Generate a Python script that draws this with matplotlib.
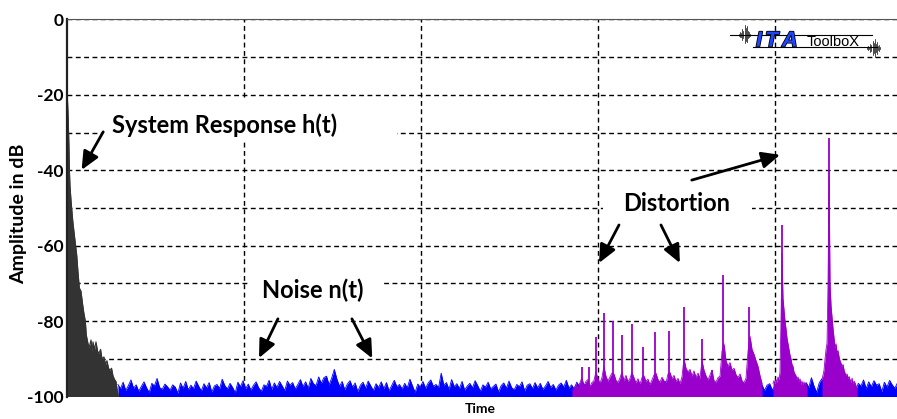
import numpy as np
import matplotlib
matplotlib.use('Agg')
import matplotlib.pyplot as plt
from matplotlib.lines import Line2D
from matplotlib.patches import Rectangle
import matplotlib.patheffects as pe

plt.rcParams['font.family'] = ['Lato', 'DejaVu Sans']

# ---------------- data (time in s, amplitude in dB) ----------------
sys_t = [0.000, 0.005, 0.009, 0.012, 0.015, 0.021, 0.031, 0.042, 0.053, 0.060,
         0.068, 0.077, 0.087, 0.094, 0.102, 0.107, 0.117, 0.123, 0.134, 0.140,
         0.145, 0.154, 0.162, 0.171, 0.179, 0.188, 0.196, 0.207, 0.216, 0.224,
         0.233, 0.241, 0.250, 0.258, 0.267, 0.275, 0.281, 0.288]
sys_db = [-20.3, -26.0, -33.0, -40.0, -44.0, -48.0, -53.5, -58.0, -62.4, -66.8,
          -71.2, -72.0, -75.7, -78.0, -80.0, -83.6, -86.0, -87.0, -85.0, -88.0,
          -85.5, -87.5, -85.5, -88.0, -88.5, -87.5, -90.0, -89.5, -91.5, -90.5,
          -92.5, -93.0, -92.5, -94.5, -95.5, -96.0, -98.0, -100.0]

noise_start, noise_end = 0.286, 4.69
noise_db = [
    -96.8, -97.9, -96.2, -98.4, -97.1, -95.6, -97.8, -96.9, -98.6, -97.3, -96.1, -97.7, -98.9, -96.5, -97.2, -95.2, -97.6, -98.1, -96.7, -97.4,
    -98.3, -96.9, -97.5, -99.1, -96.4, -97.8, -96.0, -98.2, -97.0, -97.9, -95.9, -97.3, -98.5, -96.6, -97.7, -96.3, -98.8, -97.2, -96.8, -97.9,
    -95.4, -97.1, -98.0, -96.5, -97.6, -99.0, -96.2, -97.4, -95.8, -97.9, -96.7, -98.3, -97.0, -96.1, -97.7, -98.6, -96.9, -97.3, -95.7, -98.1,
    -96.4, -97.6, -96.0, -97.2, -98.4, -95.9, -97.0, -96.3, -98.0, -96.8, -95.5, -97.4, -96.1, -97.8, -95.2, -96.6, -97.1, -94.8, -96.5, -95.0,
    -94.6, -96.9, -95.1, -92.8, -95.4, -97.3, -96.0, -98.2, -96.7, -95.8, -97.5, -96.4, -98.7, -97.0, -96.2, -97.8, -95.9, -97.2, -98.4, -96.6,
    -97.6, -96.1, -97.9, -96.3, -98.5, -97.1, -95.7, -97.4, -96.8, -98.0, -96.5, -97.7, -95.4, -97.2, -98.9, -96.7, -97.5, -96.0, -97.8, -96.4,
    -95.6, -97.3, -96.8, -97.6, -93.8, -97.0, -96.3, -98.1, -95.5, -97.4, -96.6, -97.9, -96.0, -98.3, -97.2, -96.5, -97.7, -95.8, -97.1, -98.6,
    -96.9, -97.5, -96.2, -98.0, -97.3, -96.7, -98.8, -97.1, -96.4, -97.8, -95.9, -97.6, -98.2, -96.8, -97.4, -96.1, -98.5, -97.0, -96.6, -97.9,
    -96.3, -97.7, -96.5, -98.1, -97.2, -96.0, -97.6, -96.8, -98.3, -97.0, -96.4, -97.5, -95.7, -97.8, -96.9, -98.0, -96.2, -97.3, -95.9, -97.1,
    -96.5, -97.8, -96.9, -98.2, -97.0, -96.4, -97.6, -98.0, -96.7, -97.3, -96.1, -97.9, -96.8, -98.4, -97.2, -96.5, -97.7, -96.2, -98.1, -97.0,
    -96.6, -97.4, -98.3, -96.9, -97.5, -96.3, -98.0, -97.1, -96.7, -97.8, -96.0, -97.6, -98.5, -96.8, -97.2, -96.4, -97.9, -96.1, -98.2, -97.3,
    -96.9, -97.5, -96.2, -98.0, -97.4, -96.6, -97.8, -96.3, -98.6, -97.0, -96.5, -97.7, -96.8, -98.1, -97.2, -96.0, -97.6, -96.9, -98.3, -97.1,
    -96.4, -97.9, -96.7, -98.0, -97.3, -96.2, -97.5, -96.8, -98.4, -97.0, -96.6, -98.3, -97.1, -96.5, -97.9, -96.4, -97.3, -96.9, -97.7, -96.2,
    -97.4, -96.8, -98.1, -97.0, -96.3, -97.6, -95.0, -97.2, -98.9, -96.4, -95.3, -97.8, -96.6, -94.9, -98.2, -97.1, -96.0, -97.5, -96.7, -98.0,
    -96.3, -97.7, -96.9, -98.4, -96.5, -97.2, -95.6, -97.9, -96.1, -97.4, -95.8, -97.0, -96.6, -98.7, -96.2, -97.5, -95.7, -96.9, -97.8, -96.4,
]

# distortion floor segments (start s, end s, values)
dist1_start, dist1_end = 2.851, 3.925
dist1_db = [
    -98.5, -97.8, -96.9, -97.5, -96.4, -95.0, -97.2, -96.0, -95.5, -97.4,
    -96.3, -95.8, -93.5, -95.2, -96.5, -95.0, -92.0, -94.6, -95.9, -94.8,
    -93.8, -94.0, -95.7, -96.3, -95.1, -93.5, -95.8, -94.4, -96.1, -95.2,
    -93.6, -95.0, -96.4, -95.3, -96.8, -95.0, -94.5, -96.0, -95.4, -96.9,
    -95.6, -94.3, -93.8, -95.5, -96.2, -94.9, -95.8, -96.5, -94.0, -93.6,
    -95.3, -94.4, -96.0, -95.2, -96.6, -94.8, -90.0, -92.5, -93.5, -92.8,
    -94.6, -93.2, -94.9, -93.8, -95.2, -90.5, -93.0, -94.5, -95.6, -94.3,
    -93.0, -95.8, -96.2, -95.0, -94.6, -88.0, -86.0, -90.5, -92.0, -91.0,
    -93.0, -92.5, -94.2, -95.0, -94.0, -95.8, -96.4, -95.1, -88.0, -84.0,
    -87.5, -88.8, -90.5, -92.0, -94.5, -96.5,
]
dist2_start, dist2_end = 3.987, 4.179
dist2_db = [
    -96.5, -95.8, -97.0, -95.5, -96.2, -94.8, -95.6, -93.5, -80.0, -62.0,
    -74.0, -77.0, -80.0, -82.0, -84.5, -86.0, -87.5, -89.0, -90.0, -91.5,
    -92.0, -93.5, -94.0, -94.5, -95.5, -94.8, -96.0, -95.3, -96.8, -95.9,
    -97.2, -96.1, -97.5, -96.6, -98.0,
]
dist3_start, dist3_end = 4.264, 4.462
dist3_db = [
    -95.5, -94.3, -93.0, -90.0, -87.5, -85.8, -70.0, -40.0, -70.0, -76.0,
    -79.0, -82.0, -84.5, -87.0, -86.0, -88.5, -87.8, -89.5, -90.5, -91.2,
    -92.0, -91.5, -93.0, -93.8, -94.5, -94.0, -95.2, -94.7, -95.6, -96.3,
    -95.1, -96.8, -95.9, -96.4, -97.2, -98.0,
]

# harmonic peaks
peak_t = [2.908, 2.948, 2.987, 3.032, 3.083, 3.134, 3.190, 3.252, 3.320,
          3.400, 3.484, 3.585, 3.642, 3.704, 3.851, 4.038, 4.303]
peak_db = [-92.2, -92.3, -84.2, -77.9, -79.9, -83.7, -80.8, -86.8, -82.8,
           -82.6, -76.3, -84.7, -93.0, -67.8, -76.3, -54.6, -31.4]

yticks = [0, -20, -40, -60, -80, -100]
yticks_minor = [-10, -30, -50, -70, -90]
xgrid = [1, 2, 3, 4]

# ---------------- figure ----------------
W, H = 897, 419
fig = plt.figure(figsize=(W / 100, H / 100), dpi=100)
ax = fig.add_axes([67.3 / W, 22.5 / H, (897 - 67.3) / W, 377 / H])

SYS = '#333333'
NOISE = '#0000ff'
DIST = '#9900cc'

nt = np.linspace(noise_start, noise_end, len(noise_db))
ax.fill_between(nt, -100, noise_db, color=NOISE, lw=0, zorder=2)
ax.plot(nt, noise_db, color=NOISE, lw=0.6, zorder=2)

ax.fill_between(sys_t, -100, sys_db, color=SYS, lw=0, zorder=2.1)
ax.plot(sys_t, sys_db, color=SYS, lw=0.8, zorder=2.1)

for s, e, v in [(dist1_start, dist1_end, dist1_db),
                (dist2_start, dist2_end, dist2_db),
                (dist3_start, dist3_end, dist3_db)]:
    tt = np.linspace(s, e, len(v))
    ax.fill_between(tt, -100, v, color=DIST, lw=0, zorder=2.2)
    ax.plot(tt, v, color=DIST, lw=0.6, zorder=2.2)
ax.vlines(peak_t, -100, peak_db, color=DIST, lw=1.3, zorder=2.3)

ax.set_xlim(0, 4.6876)
ax.set_ylim(-100, 0)
ax.set_yticks(yticks)
ax.set_yticks(yticks_minor, minor=True)
ax.set_yticklabels([str(v) for v in yticks], fontsize=12.5, fontweight='bold')
ax.set_xticks(xgrid)
ax.set_xticklabels([])
ax.tick_params(axis='both', which='both', length=0, pad=3)
ax.set_axisbelow(True)
gkw = dict(color='black', lw=1.0, linestyle=(0, (3.5, 2.5)))
ax.grid(True, which='major', axis='both', **gkw)
ax.grid(True, which='minor', axis='y', **gkw)

for side in ['right', 'bottom']:
    ax.spines[side].set_visible(False)
ax.spines['left'].set_linewidth(1.6)
ax.spines['left'].set_color('#222222')
ax.spines['top'].set_linewidth(0.8)
ax.spines['top'].set_color('#555555')

ax.set_ylabel('Amplitude in dB', fontsize=14, fontweight='bold')
ax.yaxis.set_label_coords(-0.048, 0.484)
ax.set_xlabel('Time', fontsize=10, fontweight='bold')
ax.xaxis.set_label_coords(0.4976, -0.018)

# white boxes behind labels (interrupt the grid)
for x0, x1, y0, y1 in [(0.202, 1.863, -32.0, -21.4),
                       (3.027, 3.868, -54.5, -42.5),
                       (1.03, 1.78, -76.5, -68.5)]:
    ax.add_patch(Rectangle((x0, y0), x1 - x0, y1 - y0, facecolor='white',
                           edgecolor='none', zorder=1))

tkw = dict(fontsize=17, fontweight='bold', ha='left', va='baseline', zorder=5)
ax.text(0.251, -30.2, 'System Response h(t)', **tkw)
ax.text(3.141, -50.7, 'Distortion', **tkw)
ax.text(1.100, -73.9, 'Noise n(t)', **tkw)

akw = dict(arrowstyle='-|>,head_length=0.55,head_width=0.25', mutation_scale=20,
           lw=2.0, color='black', shrinkA=0, shrinkB=0)
for tail, head in [((0.203, -29.8), (0.081, -39.9)),
                   ((1.190, -79.4), (1.083, -89.8)),
                   ((1.608, -79.4), (1.723, -89.9)),
                   ((3.117, -54.5), (3.004, -64.6)),
                   ((3.354, -54.5), (3.461, -64.6)),
                   ((3.528, -42.6), (4.027, -35.9))]:
    ax.annotate('', xy=head, xytext=tail, arrowprops=akw, zorder=6)

# ---------------- ITA Toolbox logo ----------------
def fx(px):
    return px / W

def fy(py):
    return 1 - py / H

fig.add_artist(Line2D([fx(730), fx(872)], [fy(35), fy(35)], color='black', lw=0.8))
fig.add_artist(Line2D([fx(753), fx(877)], [fy(47), fy(47)], color='black', lw=0.8))
for ch, px in [('I', 756), ('T', 765), ('A', 782)]:
    fig.text(fx(px), fy(46.5), ch, color='#1e46ff', fontsize=15.5, fontweight='heavy',
             style='italic', family='Liberation Sans', va='baseline',
             path_effects=[pe.withStroke(linewidth=1.2, foreground='black')])
fig.text(fx(807), fy(46), 'ToolboX', fontsize=10.5, va='baseline', family='Liberation Sans')
glyph1 = [1, 3, 2, 6, 4, 10, 7, 9, 4, 3, 1]
glyph2 = [1, 2, 1, 4, 3, 7, 5, 9, 4, 6, 2, 3, 1]
for i, h in enumerate(glyph1):
    fig.add_artist(Line2D([fx(739 + 1.1 * i)] * 2, [fy(35 - h), fy(35 + h * 0.8)],
                          color='black', lw=0.5))
for i, h in enumerate(glyph2):
    fig.add_artist(Line2D([fx(867 + 1.1 * i)] * 2, [fy(48 - h), fy(48 + h)],
                          color='black', lw=0.5))

fig.savefig('out.png', dpi=100)
